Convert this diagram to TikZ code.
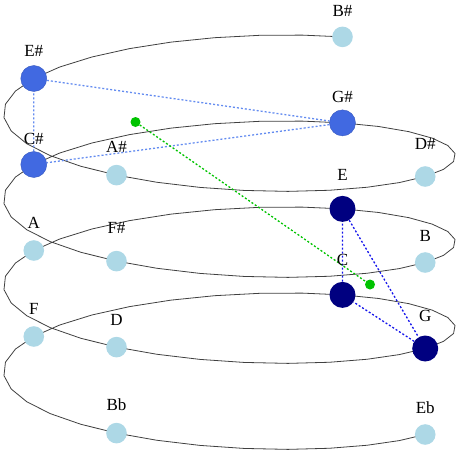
\documentclass[tikz,border=0pt]{standalone}
\usepackage{fontspec}
\setmainfont{Liberation Serif}
\usepackage{xcolor}
\usetikzlibrary{positioning,backgrounds}

\definecolor{pclight}{RGB}{173,216,230}
\definecolor{pcroyal}{RGB}{65,105,225}
\definecolor{pcnavy}{RGB}{0,0,128}
\definecolor{triadblue}{RGB}{20,20,235}
\definecolor{triadlight}{RGB}{100,140,240}
\definecolor{ctrgreen}{RGB}{0,195,0}

\begin{document}
\begin{tikzpicture}[x=1pt, y=-1pt,
    pc/.style={circle, fill=pclight, inner sep=0pt, minimum size=20.6pt},
    royal/.style={circle, fill=pcroyal, draw=pcroyal!85!black, line width=0.4pt, inner sep=0pt, minimum size=26pt},
    navy/.style={circle, fill=pcnavy, inner sep=0pt, minimum size=26pt},
    ctr/.style={circle, fill=ctrgreen, inner sep=0pt, minimum size=10pt},
    lbl/.style={inner sep=0pt, text height=11pt, text depth=0pt, font=\fontsize{17}{19}\selectfont},
    spiral/.style={draw=black!75, line width=0.8pt},
    dots/.style={line width=1.3pt, dash pattern=on 2pt off 2pt}]
    \useasboundingbox (0,0) rectangle (459,453);

    \foreach \n/\k/\lab/\off/\sty in {Eb/0/Eb/27/pc, Bb/1/Bb/28/pc, F/2/F/28/pc, C/3/C/35/navy,
        G/4/G/33/navy, D/5/D/27/pc, A/6/A/28/pc, E/7/E/34/navy, B/8/B/27/pc, Fs/9/F\#/33/pc,
        Cs/10/C\#/26/royal, Gs/11/G\#/26/royal, Ds/12/D\#/33/pc, As/13/A\#/28/pc,
        Es/14/E\#/28/royal, Bs/15/B\#/26/pc} {
        \pgfmathsetmacro{\px}{229.5+226*cos(30+90*\k)}
        \pgfmathsetmacro{\py}{407-21.5*\k+55*sin(30+90*\k)}
        \node[\sty] (\n) at (\px,\py) {};
        \node[lbl] (\n-l) at (\px,\py-\off) {\lab};
    }

    \node[ctr] (c1) at (135.5,122) {};
    \node[ctr] (c2) at (370,284.5) {};

    \begin{scope}[on background layer]
        \draw[spiral] plot[domain=0:15, samples=121]
            ({229.5+226*cos(30+90*\x)}, {407-21.5*\x+55*sin(30+90*\x)});
        \draw[dots, triadlight] (Cs) -- (Es) -- (Gs) -- (Cs);
        \draw[dots, triadblue] (C) -- (E) -- (G) -- (C);
        \draw[dots, ctrgreen] (c1) -- (c2);
    \end{scope}
\end{tikzpicture}
\end{document}
